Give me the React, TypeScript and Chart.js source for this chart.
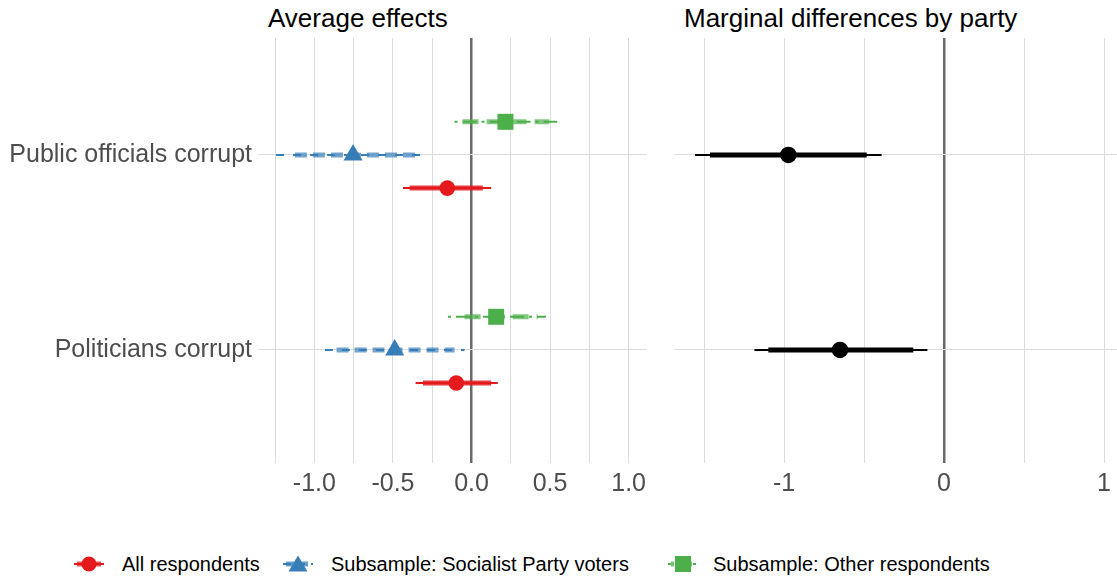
import React, { useEffect, useRef } from "react";
import { Chart, registerables } from "chart.js";
Chart.register(...registerables);

// ---------- data ----------
const categories = ["Public officials corrupt", "Politicians corrupt"];
const categoryPos = [2, 1];

const seriesNames = ["All respondents", "Subsample: Socialist Party voters", "Subsample: Other respondents"];

// All respondents
const allEst = [-0.154, -0.097];
const allInnerLo = [-0.394, -0.309];
const allInnerHi = [0.072, 0.125];
const allOuterLo = [-0.436, -0.356];
const allOuterHi = [0.125, 0.167];

// Socialist Party voters
const socEst = [-0.754, -0.489];
const socInnerLo = [-1.124, -0.859];
const socInnerHi = [-0.351, -0.108];
const socOuterLo = [-1.244, -0.933];
const socOuterHi = [-0.277, -0.044];

// Other respondents
const othEst = [0.216, 0.157];
const othInnerLo = [-0.057, -0.044];
const othInnerHi = [0.495, 0.421];
const othOuterLo = [-0.108, -0.15];
const othOuterHi = [0.545, 0.474];

// Marginal differences by party
const diffEst = [-0.973, -0.65];
const diffInnerLo = [-1.4625, -1.098];
const diffInnerHi = [-0.483, -0.192];
const diffOuterLo = [-1.556, -1.185];
const diffOuterHi = [-0.39, -0.104];

const leftGrid = [-1.25, -1, -0.75, -0.5, -0.25, 0, 0.25, 0.5, 0.75, 1];
const leftTickValues = [-1, -0.5, 0, 0.5, 1];
const leftTickLabels = ["-1.0", "-0.5", "0.0", "0.5", "1.0"];
const rightGrid = [-1.5, -1, -0.5, 0, 0.5, 1];
const rightTickValues = [-1, 0, 1];
const rightTickLabels = ["-1", "0", "1"];

const titles = ["Average effects", "Marginal differences by party"];

// ---------- styling ----------
const FONT = '"Liberation Sans", Arial, sans-serif';
const RED = "#E41A1C";
const BLUE = "#377EB8";
const GREEN = "#4DAF4A";
const GRID = "#dcdcdc";
const ZERO = "#6a6a6a";
const TEXT = "#4d4d4d";

type Series = {
  est: number[]; innerLo: number[]; innerHi: number[]; outerLo: number[]; outerHi: number[];
  color: string; thick: string; offset: number; style: string; radius: number;
  thinDash: number[]; thickDash: number[];
};

function buildDatasets(series: Series[]) {
  const ds: any[] = [];
  series.forEach((s) => {
    categoryPos.forEach((p, i) => {
      const y = p + s.offset;
      ds.push({
        data: [{ x: s.outerLo[i], y }, { x: s.outerHi[i], y }],
        borderColor: s.color, borderWidth: 2, borderDash: s.thinDash,
        pointRadius: 0, showLine: true, order: 3, borderCapStyle: "butt",
      });
      ds.push({
        data: [{ x: s.innerLo[i], y }, { x: s.innerHi[i], y }],
        borderColor: s.thick, borderWidth: 5, borderDash: s.thickDash,
        pointRadius: 0, showLine: true, order: 2, borderCapStyle: "butt",
      });
    });
    ds.push({
      data: s.est.map((v, i) => ({ x: v, y: categoryPos[i] + s.offset })),
      showLine: false, pointStyle: s.style, pointRadius: s.radius,
      backgroundColor: s.color, borderColor: s.color, borderWidth: 0, order: 1,
    });
  });
  return ds;
}

function makeOptions(xmin: number, xmax: number, grid: number[], tickVals: number[], tickLabels: string[], showY: boolean, padRight: number) {
  return {
    animation: false,
    responsive: false,
    maintainAspectRatio: false,
    layout: { autoPadding: false, padding: { left: 0, right: padRight, top: 0, bottom: 0 } },
    plugins: { legend: { display: false }, tooltip: { enabled: false }, title: { display: false } },
    scales: {
      x: {
        type: "linear", min: xmin, max: xmax,
        afterBuildTicks: (scale: any) => { scale.ticks = grid.map((v) => ({ value: v })); },
        afterFit: (scale: any) => { scale.height = 42; scale.paddingLeft = 0; scale.paddingRight = 0; },
        ticks: {
          autoSkip: false, maxRotation: 0, padding: 6, color: TEXT,
          font: { family: FONT, size: 25 },
          callback: (v: any) => { const k = tickVals.indexOf(Number(v)); return k >= 0 ? tickLabels[k] : ""; },
        },
        grid: {
          drawTicks: false,
          color: (c: any) => (c.tick && c.tick.value === 0 ? ZERO : GRID),
          lineWidth: (c: any) => (c.tick && c.tick.value === 0 ? 2.5 : 1),
        },
        border: { display: false },
      },
      y: {
        type: "linear", min: 0.42, max: 2.6,
        afterBuildTicks: (scale: any) => { scale.ticks = categoryPos.map((v) => ({ value: v })); },
        afterFit: (scale: any) => { scale.width = showY ? 258 : 0; scale.paddingTop = 0; scale.paddingBottom = 0; },
        ticks: {
          display: showY, padding: 6, color: TEXT, font: { family: FONT, size: 25 },
          callback: (v: any) => { const k = categoryPos.indexOf(Number(v)); return k >= 0 ? categories[k] : ""; },
        },
        grid: { drawTicks: false, color: GRID, lineWidth: 1 },
        border: { display: false },
      },
    },
  };
}

function ChartCanvas({ build, style, w, h }: { build: (c: HTMLCanvasElement) => Chart; style: any; w: number; h: number }) {
  const ref = useRef<HTMLCanvasElement>(null);
  useEffect(() => {
    if (!ref.current) return;
    const ch = build(ref.current);
    return () => ch.destroy();
  }, []);
  return <canvas ref={ref} width={w} height={h} style={{ position: "absolute", width: w, height: h, ...style }} />;
}

function Icon({ color, shape, dash }: { color: string; shape: string; dash?: string }) {
  return (
    <svg width={32} height={20} style={{ display: "block" }}>
      <line x1={0} y1={10} x2={30} y2={10} stroke={color} strokeWidth={2} strokeDasharray={dash} />
      <line x1={3} y1={10} x2={27} y2={10} stroke={color} strokeOpacity={0.75} strokeWidth={5} strokeDasharray={dash} />
      {shape === "circle" && <circle cx={15} cy={10} r={7.5} fill={color} />}
      {shape === "triangle" && <polygon points="15,1.5 24.5,17.5 5.5,17.5" fill={color} />}
      {shape === "rect" && <rect x={7} y={2} width={16} height={16} fill={color} />}
    </svg>
  );
}

export default function App() {
  useEffect(() => { document.body.style.margin = "0"; }, []);

  const leftSeries: Series[] = [
    { est: allEst, innerLo: allInnerLo, innerHi: allInnerHi, outerLo: allOuterLo, outerHi: allOuterHi, color: RED, thick: "rgba(228,26,28,0.85)", offset: -0.17, style: "circle", radius: 7.8, thinDash: [], thickDash: [] },
    { est: socEst, innerLo: socInnerLo, innerHi: socInnerHi, outerLo: socOuterLo, outerHi: socOuterHi, color: BLUE, thick: "rgba(55,126,184,0.7)", offset: 0, style: "triangle", radius: 11, thinDash: [8, 9], thickDash: [12, 6] },
    { est: othEst, innerLo: othInnerLo, innerHi: othInnerHi, outerLo: othOuterLo, outerHi: othOuterHi, color: GREEN, thick: "rgba(77,175,74,0.7)", offset: 0.17, style: "rect", radius: 11.3, thinDash: [3, 5, 14, 5], thickDash: [16, 8] },
  ];
  const rightSeries: Series[] = [
    { est: diffEst, innerLo: diffInnerLo, innerHi: diffInnerHi, outerLo: diffOuterLo, outerHi: diffOuterHi, color: "#000000", thick: "#000000", offset: 0, style: "circle", radius: 8.3, thinDash: [], thickDash: [] },
  ];

  const buildLeft = (c: HTMLCanvasElement) =>
    new Chart(c, { type: "line", data: { datasets: buildDatasets(leftSeries) }, options: makeOptions(-1.359, 1.117, leftGrid, leftTickValues, leftTickLabels, true, 13) as any });
  const buildRight = (c: HTMLCanvasElement) =>
    new Chart(c, { type: "line", data: { datasets: buildDatasets(rightSeries) }, options: makeOptions(-1.6875, 1.081, rightGrid, rightTickValues, rightTickLabels, false, 0) as any });

  const legendItems = [
    { name: seriesNames[0], color: RED, shape: "circle", dash: undefined, iconLeft: 74, textLeft: 122 },
    { name: seriesNames[1], color: BLUE, shape: "triangle", dash: "8 6", iconLeft: 283, textLeft: 331 },
    { name: seriesNames[2], color: GREEN, shape: "rect", dash: "3 4 14 4", iconLeft: 668, textLeft: 713 },
  ];

  return (
    <div style={{ position: "relative", width: 1117, height: 579, overflow: "hidden", background: "#fff", fontFamily: FONT }}>
      <div style={{ position: "absolute", left: 268, top: 5, fontSize: 26, lineHeight: "26px", color: "#000", whiteSpace: "nowrap" }}>{titles[0]}</div>
      <div style={{ position: "absolute", left: 684, top: 5, fontSize: 26, lineHeight: "26px", color: "#000", whiteSpace: "nowrap" }}>{titles[1]}</div>
      <ChartCanvas build={buildLeft} w={660} h={467} style={{ left: 0, top: 38 }} />
      <ChartCanvas build={buildRight} w={443} h={467} style={{ left: 674, top: 38 }} />
      {legendItems.map((it) => (
        <React.Fragment key={it.name}>
          <div style={{ position: "absolute", left: it.iconLeft, top: 554 }}>
            <Icon color={it.color} shape={it.shape} dash={it.dash} />
          </div>
          <div style={{ position: "absolute", left: it.textLeft, top: 553, fontSize: 20, lineHeight: "22px", color: "#000", whiteSpace: "nowrap" }}>{it.name}</div>
        </React.Fragment>
      ))}
    </div>
  );
}
